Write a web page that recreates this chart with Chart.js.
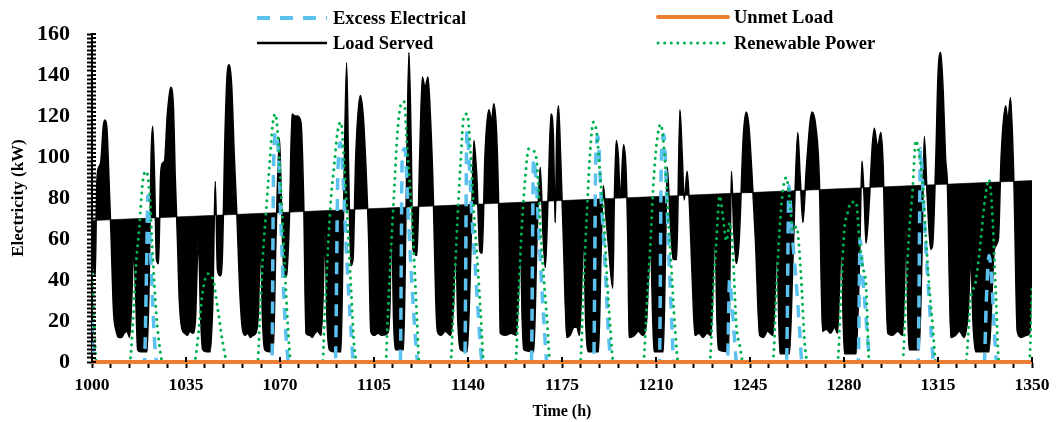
<!DOCTYPE html>
<html>
<head>
<meta charset="utf-8">
<script src="https://cdn.jsdelivr.net/npm/chart.js@4.4.1/dist/chart.umd.min.js"></script>
<style>
  body { margin: 0; background: #fff; }
  #wrap { width: 1056px; height: 422px; position: relative; }
</style>
</head>
<body>
<div id="wrap"><canvas id="energyChart"></canvas></div>
<script>
// Load served (kW)
const loadHours = [1000, 1001.2, 1001.8, 1002.5, 1003.3, 1004.2, 1004.8, 1005.5, 1006.3, 1007, 1008, 1009, 1010, 1011, 1012, 1013, 1014, 1014.8, 1015.5, 1016.3, 1017, 1018, 1019, 1020.5, 1021.3, 1022, 1022.6, 1023.3, 1024, 1024.8, 1025.5, 1026.2, 1027, 1028, 1029.3, 1030.3, 1031, 1031.8, 1032.5, 1033.5, 1034.5, 1035.5, 1036.5, 1037.5, 1038.5, 1039.6, 1040.5, 1041.2, 1042.5, 1044, 1045, 1045.9, 1046.7, 1047.7, 1048.5, 1049.5, 1050.3, 1051.1, 1052, 1053, 1054, 1055, 1056, 1057, 1058, 1059, 1060, 1061, 1062, 1062.7, 1063.5, 1064.3, 1066, 1067.5, 1068.5, 1069.8, 1070.5, 1071.5, 1072.5, 1073.5, 1074.5, 1075.5, 1076.5, 1077.8, 1078.8, 1079.7, 1081, 1082, 1083, 1084, 1085.3, 1086, 1086.7, 1087.5, 1088.4, 1090, 1092.7, 1093.5, 1094.8, 1095.6, 1096.4, 1097.2, 1098.2, 1099.9, 1101, 1102, 1103, 1103.8, 1105, 1106.5, 1108, 1110, 1111, 1111.5, 1112.3, 1113, 1116, 1117, 1118, 1118.8, 1119.5, 1121, 1122, 1123, 1124, 1125.1, 1126, 1127, 1128, 1128.6, 1130, 1131.5, 1133.5, 1134.7, 1135.4, 1136.2, 1137.2, 1139.7, 1141, 1142.2, 1143.3, 1144.4, 1145.3, 1146.3, 1147.8, 1148.8, 1149.6, 1150.7, 1151.5, 1152, 1154, 1156, 1158, 1158.9, 1159.5, 1160.2, 1160.7, 1164.5, 1165.7, 1166.9, 1168, 1168.8, 1169.8, 1170.9, 1171.8, 1172.5, 1173, 1173.7, 1174.5, 1175.5, 1176.8, 1178, 1179.5, 1180.5, 1181.5, 1182.3, 1183, 1183.8, 1184.9, 1188.6, 1189.5, 1190.4, 1191.4, 1192.2, 1193.9, 1194.5, 1195.2, 1196, 1196.7, 1197.9, 1198.8, 1199.5, 1200, 1202, 1203.5, 1205, 1206.5, 1207.2, 1208, 1208.8, 1209.3, 1212.7, 1213.5, 1214.2, 1215.2, 1216.4, 1217.7, 1218.9, 1219.8, 1220.5, 1221.6, 1222.5, 1223.5, 1224.5, 1226, 1227.5, 1229, 1230.5, 1231.3, 1231.9, 1232.7, 1233.3, 1237, 1237.6, 1238.1, 1238.9, 1239.9, 1241, 1242.5, 1243.6, 1244.6, 1245.8, 1247, 1248.6, 1250, 1251.5, 1253.5, 1254.3, 1255, 1255.7, 1256.2, 1259.7, 1261, 1262.8, 1263.7, 1264.7, 1266, 1268.1, 1269.5, 1270.8, 1272, 1273.5, 1275, 1276.5, 1277.6, 1278.3, 1279, 1279.7, 1280.2, 1284.5, 1285.8, 1286.7, 1287.5, 1288.2, 1289.5, 1290.5, 1291.3, 1292.5, 1293.7, 1294.6, 1295.2, 1296.3, 1298, 1300, 1301.8, 1302.5, 1303.1, 1303.8, 1304.3, 1308, 1309, 1309.9, 1311, 1312.3, 1313, 1314.2, 1315, 1316, 1317, 1317.8, 1318.5, 1319.8, 1321.5, 1323, 1324.7, 1326.3, 1327.2, 1328, 1329, 1334, 1336, 1337.5, 1338.5, 1340.2, 1341, 1342, 1343.3, 1344.5, 1346, 1348, 1349.3, 1350];
const loadKW = [55, 42, 88, 95, 98, 115, 118, 115, 90, 65, 25, 15, 12, 12, 14, 15, 12, 30, 55, 30, 6, 5, 5, 5, 40, 100, 115, 90, 50, 48, 90, 97, 98, 120, 134, 125, 90, 60, 30, 16, 14, 13, 15, 14, 20, 59, 20, 6, 5, 5, 30, 88, 45, 42, 50, 110, 140, 145, 135, 100, 70, 35, 16, 13, 14, 12, 13, 14, 25, 59, 20, 6, 5, 5, 60, 109, 80, 42, 42, 70, 121, 120, 120, 117, 80, 14, 13, 12, 14, 15, 13, 30, 62, 20, 6, 5, 5, 60, 146, 90, 47, 50, 100, 130, 120, 95, 60, 15, 13, 14, 13, 14, 30, 75, 20, 6, 6, 80, 151, 110, 55, 52, 100, 139, 134, 139, 120, 85, 30, 15, 13, 15, 13, 30, 59, 20, 6, 5, 50, 108, 90, 54, 53, 100, 123, 118, 126, 110, 70, 14, 13, 14, 13, 35, 59, 20, 6, 5, 60, 95, 60, 46, 80, 121, 110, 68, 110, 125, 100, 60, 12, 13, 17, 17, 13, 35, 64, 20, 5, 5, 50, 86, 70, 58, 36, 80, 108, 100, 80, 106, 95, 60, 12, 13, 15, 13, 20, 40, 56, 20, 5, 5, 50, 95, 70, 50, 50, 123, 100, 79, 93, 75, 40, 13, 14, 12, 14, 13, 40, 67, 20, 6, 5, 50, 93, 65, 48, 60, 110, 122, 115, 90, 60, 13, 12, 15, 13, 30, 60, 20, 4, 4, 50, 112, 90, 68, 95, 122, 115, 90, 15, 16, 14, 17, 14, 35, 62, 20, 4, 4, 50, 98, 80, 58, 80, 105, 114, 105, 112, 95, 60, 14, 13, 15, 13, 35, 64, 20, 6, 6, 50, 110, 80, 55, 57, 100, 140, 151, 130, 100, 87, 12, 13, 15, 12, 25, 51, 20, 5, 5, 55, 60, 100, 125, 118, 129, 86, 15, 12, 13, 15, 60];

// Renewable power (kW)
const renewableHours = [1000, 1000.8, 1001.6, 1014, 1015.2, 1016.4, 1017.7, 1018.9, 1020.2, 1021.4, 1022.6, 1023.9, 1025.1, 1026.3, 1038.1, 1039.4, 1041.2, 1043.1, 1044.9, 1046.8, 1048.6, 1050.4, 1061.7, 1062.4, 1063.6, 1064.8, 1066.1, 1067.3, 1068.2, 1069.2, 1070.4, 1071.6, 1072.9, 1074.1, 1085.9, 1086.5, 1087.7, 1089, 1090.2, 1091.4, 1092.7, 1093.9, 1095.2, 1096.4, 1097.6, 1098.9, 1109.4, 1110, 1111.2, 1112.5, 1113.7, 1114.9, 1116.2, 1117.4, 1118.7, 1119.9, 1121.1, 1121.8, 1133.5, 1134.8, 1136, 1137.2, 1138.5, 1139.7, 1140.9, 1142.2, 1143.4, 1144.7, 1145.9, 1157.7, 1158.9, 1160.1, 1161.4, 1162.6, 1164.5, 1165.7, 1166.9, 1168.2, 1169.4, 1170.6, 1181.8, 1183, 1184.3, 1185.5, 1186.7, 1188, 1189.2, 1190.4, 1191.7, 1192.9, 1194.2, 1205.3, 1206.5, 1207.8, 1209, 1210.2, 1211.7, 1213.3, 1214.6, 1215.8, 1217, 1218.3, 1230, 1231.3, 1232.5, 1233.7, 1235, 1236.2, 1237.5, 1238.7, 1239.9, 1241.2, 1242.4, 1253.5, 1254.8, 1256, 1257.2, 1258.5, 1259.7, 1261, 1262.3, 1264, 1265.3, 1266.5, 1277.6, 1278.9, 1280.1, 1281.4, 1282.6, 1284.5, 1285.7, 1286.9, 1288.2, 1289.4, 1301.8, 1303.1, 1304.3, 1305.5, 1306.8, 1308, 1309.2, 1310.5, 1311.7, 1313, 1314.2, 1325.3, 1327.2, 1329, 1330.9, 1332.1, 1334, 1335.2, 1336.5, 1337.7, 1349, 1350];
const renewableKW = [46, 20, 0, 0, 18, 47, 67, 88, 93, 83, 52, 24, 8, 0, 0, 11, 34, 43, 41, 26, 10, 0, 0, 18, 51, 73, 96, 116, 121, 111, 83, 51, 18, 0, 0, 18, 51, 80, 96, 112, 117, 96, 67, 37, 8, 0, 0, 18, 51, 83, 111, 125, 127, 103, 80, 51, 18, 0, 0, 34, 67, 96, 120, 121, 103, 73, 51, 24, 0, 0, 34, 67, 91, 104, 103, 96, 67, 41, 21, 0, 0, 37, 73, 103, 117, 111, 91, 73, 42, 18, 0, 0, 26, 54, 86, 106, 116, 99, 70, 44, 18, 0, 0, 34, 59, 81, 70, 59, 68, 51, 18, 8, 0, 0, 34, 64, 83, 90, 80, 64, 66, 42, 10, 0, 0, 34, 64, 73, 78, 78, 60, 47, 37, 0, 0, 34, 64, 83, 108, 101, 88, 60, 37, 18, 0, 0, 31, 39, 59, 75, 89, 73, 34, 0, 0, 37];

// Excess electrical production (kW)
const excessHours = [1000, 1000.6, 1019.5, 1020.3, 1020.8, 1021.6, 1022.5, 1023.4, 1024.2, 1067, 1067.6, 1068.5, 1069.5, 1070.5, 1071.5, 1072.5, 1073.2, 1090.6, 1091.5, 1092.5, 1093.5, 1094.5, 1095.5, 1096.5, 1097.4, 1114.8, 1115.5, 1116.5, 1117.5, 1118.5, 1119.5, 1120.5, 1121.3, 1138.8, 1139.6, 1140.5, 1141.5, 1142.5, 1143.5, 1144.5, 1145.3, 1163.6, 1164.4, 1165.5, 1166.5, 1167.5, 1168.5, 1169.4, 1186.8, 1187.6, 1188.4, 1189.5, 1190.5, 1191.5, 1192.5, 1193.4, 1211.3, 1212, 1212.9, 1214, 1215, 1216, 1216.6, 1236.6, 1237.4, 1238.4, 1239.3, 1240, 1258.6, 1259.5, 1260.5, 1261.5, 1262.5, 1263.5, 1264.4, 1285.3, 1286, 1287, 1288, 1289, 1289.8, 1307.6, 1308.5, 1309.5, 1310.5, 1311.5, 1312.5, 1313.4, 1332.2, 1333, 1334, 1335, 1336, 1336.8, 1350];
const excessKW = [20, 0, 0, 45, 81, 60, 32, 8, 0, 0, 95, 112, 100, 62, 30, 8, 0, 0, 90, 107, 90, 60, 35, 14, 0, 0, 100, 104, 80, 52, 30, 10, 0, 0, 113, 96, 70, 50, 30, 10, 0, 0, 99, 85, 60, 36, 15, 0, 0, 100, 110, 82, 60, 35, 10, 0, 0, 100, 111, 80, 45, 15, 0, 0, 40, 26, 10, 0, 0, 86, 66, 50, 34, 15, 0, 0, 60, 41, 25, 8, 0, 0, 104, 80, 55, 34, 14, 0, 0, 30, 52, 40, 15, 0, 0];

// Unmet load (kW)
const unmetHours = [1000, 1350];
const unmetKW = [0, 0];

// straight reference line the load area is shaded against
const baseHours = [1000, 1350];
const baseKW = [69, 88.5];

const LOAD_INDEX = 3;
const BASE_INDEX = 4;

const toPoints = (xs, ys) => xs.map((x, i) => ({ x: x, y: ys[i] }));

const serif = '"Liberation Serif", "Times New Roman", serif';

const legendItems = [
    { label: 'Excess Electrical', color: '#5bc2f0', width: 4, dash: [13, 10], cap: 'butt', x: 257, y: 18 },
    { label: 'Load Served', color: '#000000', width: 2.5, dash: [], cap: 'butt', x: 257, y: 43 },
    { label: 'Unmet Load', color: '#ed7d31', width: 4, dash: [], cap: 'round', x: 658, y: 17 },
    { label: 'Renewable Power', color: '#00b050', width: 3, dash: [0.1, 6.5], cap: 'round', x: 658, y: 43 }
];

const legendPlugin = {
    id: 'customLegend',
    afterDraw(chart) {
        const ctx = chart.ctx;
        ctx.save();
        legendItems.forEach(item => {
            ctx.beginPath();
            ctx.strokeStyle = item.color;
            ctx.lineWidth = item.width;
            ctx.lineCap = item.cap;
            ctx.setLineDash(item.dash);
            ctx.moveTo(item.x, item.y);
            ctx.lineTo(item.x + 70, item.y);
            ctx.stroke();
            ctx.setLineDash([]);
            ctx.fillStyle = '#000';
            ctx.font = 'bold 18.5px ' + serif;
            ctx.textBaseline = 'middle';
            ctx.fillText(item.label, item.x + 76, item.y + 1);
        });
        ctx.restore();
    }
};

// shade between the load curve and the straight base line
const bandPlugin = {
    id: 'loadBand',
    beforeDatasetDraw(chart, args) {
        if (args.index !== LOAD_INDEX) return;
        const line = args.meta.dataset;
        const base = chart.getDatasetMeta(BASE_INDEX).data;
        const area = chart.chartArea;
        const ctx = chart.ctx;
        ctx.save();
        ctx.beginPath();
        ctx.rect(area.left, area.top, area.right - area.left, area.bottom - area.top);
        ctx.clip();
        ctx.beginPath();
        line.path(ctx);
        for (let i = base.length - 1; i >= 0; i--) {
            ctx.lineTo(base[i].x, base[i].y);
        }
        ctx.closePath();
        ctx.fillStyle = '#000';
        ctx.fill('nonzero');
        ctx.restore();
    }
};

// tick marks also poke into the plot area, like the original axes
const innerTicks = {
    id: 'innerTicks',
    afterDraw(chart) {
        const { ctx, scales: { x, y } } = chart;
        ctx.save();
        ctx.strokeStyle = '#000';
        ctx.lineWidth = 2;
        ctx.beginPath();
        y.ticks.forEach(t => {
            const py = y.getPixelForValue(t.value);
            ctx.moveTo(x.left, py);
            ctx.lineTo(x.left + 4, py);
        });
        x.ticks.forEach(t => {
            if ((t.value - 1000) % 35 !== 0) return;
            const px = x.getPixelForValue(t.value);
            ctx.moveTo(px, y.bottom);
            ctx.lineTo(px, y.bottom - 5);
        });
        ctx.stroke();
        ctx.restore();
    }
};

new Chart(document.getElementById('energyChart').getContext('2d'), {
    type: 'line',
    data: {
        datasets: [
            {
                label: 'Unmet Load',
                data: toPoints(unmetHours, unmetKW),
                borderColor: '#ed7d31',
                borderWidth: 4,
                pointRadius: 0,
                clip: 6,
                order: 0
            },
            {
                label: 'Renewable Power',
                data: toPoints(renewableHours, renewableKW),
                borderColor: '#00b050',
                borderWidth: 3,
                borderDash: [0.1, 6.5],
                borderCapStyle: 'round',
                cubicInterpolationMode: 'monotone',
                pointRadius: 0,
                order: 1
            },
            {
                label: 'Excess Electrical',
                data: toPoints(excessHours, excessKW),
                borderColor: '#5bc2f0',
                borderWidth: 3.5,
                borderDash: [12, 9],
                cubicInterpolationMode: 'monotone',
                pointRadius: 0,
                order: 2
            },
            {
                label: 'Load Served',
                data: toPoints(loadHours, loadKW),
                borderColor: '#000000',
                borderWidth: 1.5,
                fill: false,
                cubicInterpolationMode: 'monotone',
                pointRadius: 0,
                order: 3
            },
            {
                label: 'base',
                data: toPoints(baseHours, baseKW),
                borderColor: '#666666',
                borderWidth: 1,
                pointRadius: 0,
                order: 4
            }
        ]
    },
    options: {
        responsive: true,
        maintainAspectRatio: false,
        animation: false,
        layout: { padding: { top: 34, right: 21, left: 0, bottom: 0 } },
        plugins: {
            legend: { display: false },
            tooltip: { enabled: false }
        },
        scales: {
            x: {
                type: 'linear',
                min: 1000,
                max: 1350,
                border: { color: '#000', width: 2 },
                grid: { drawOnChartArea: false, color: '#000', tickLength: 6, tickWidth: 2 },
                ticks: {
                    stepSize: 7,
                    autoSkip: false,
                    maxRotation: 0,
                    padding: 6.5,
                    color: '#000',
                    font: { family: serif, size: 17.5, weight: 'bold' },
                    callback: v => ((v - 1000) % 35 === 0 ? v : '')
                },
                title: {
                    display: true,
                    text: 'Time (h)',
                    color: '#000',
                    font: { family: serif, size: 16, weight: 'bold' },
                    padding: { top: 0, bottom: 1 }
                },
                afterFit: s => { s.height = 60; }
            },
            y: {
                min: 0,
                max: 160,
                border: { color: '#000', width: 2 },
                grid: { drawOnChartArea: false, color: '#000', tickLength: 5, tickWidth: 2 },
                ticks: {
                    stepSize: 2,
                    autoSkip: false,
                    padding: 17,
                    color: '#000',
                    font: { family: serif, size: 22, weight: 'bold' },
                    callback: v => (v % 20 === 0 ? v : '')
                },
                title: {
                    display: true,
                    text: 'Electricity (kW)',
                    color: '#000',
                    font: { family: serif, size: 17, weight: 'bold' },
                    padding: { top: 8, bottom: 0 }
                },
                afterFit: s => { s.width = 92; }
            }
        }
    },
    plugins: [bandPlugin, innerTicks, legendPlugin]
});
</script>
</body>
</html>
